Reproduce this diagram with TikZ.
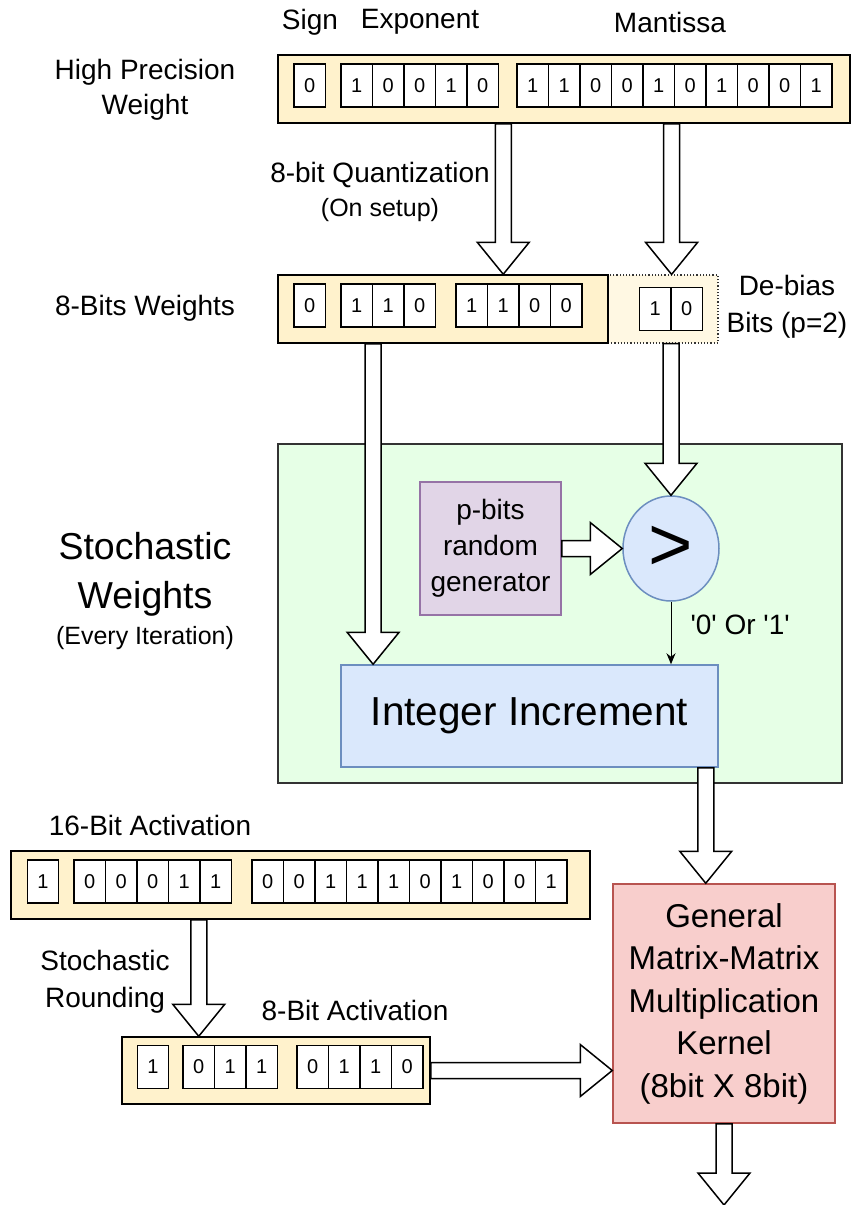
\documentclass[tikz,border=0pt]{standalone}
\usepackage{fontspec}
\setmainfont{Liberation Sans}
\usetikzlibrary{calc}
\usetikzlibrary{shapes}
\usetikzlibrary{arrows.meta}
\definecolor{wordfill}{HTML}{FFF2CC}
\definecolor{stochfill}{HTML}{E6FFE6}
\definecolor{genfill}{HTML}{E1D5E7}
\definecolor{genline}{HTML}{9673A6}
\definecolor{incfill}{HTML}{DAE8FC}
\definecolor{incline}{HTML}{6C8EBF}
\definecolor{gemmfill}{HTML}{F8CECC}
\definecolor{gemmline}{HTML}{B85450}
\tikzset{
    bit/.style = {rectangle, draw=black, line width=1.2pt, fill=white, minimum width=31.5, minimum height=43, inner sep=0pt, font=\fontsize{20}{20}\selectfont},
    word/.style = {rectangle, draw=black, line width=1.5pt, fill=wordfill, minimum height=68, inner sep=0pt},
    worddot/.style = {rectangle, draw=black!80, line width=1.2pt, dotted, fill=wordfill!55, minimum height=68, inner sep=0pt},
    lbl/.style = {align=center, inner sep=0pt, font=\fontsize{28}{35}\selectfont},
    lblsmall/.style = {align=center, inner sep=0pt, font=\fontsize{25}{30}\selectfont},
    stochbox/.style = {rectangle, draw=black!80, line width=1.2pt, fill=stochfill, inner sep=0pt},
    genbox/.style = {rectangle, draw=genline, line width=1.5pt, fill=genfill, align=center, font=\fontsize{28}{36}\selectfont},
    cmpbox/.style = {ellipse, draw=incline, line width=1.5pt, fill=incfill, inner sep=0pt, font=\fontsize{76}{76}\selectfont},
    incbox/.style = {rectangle, draw=incline, line width=1.5pt, fill=incfill, font=\fontsize{40.5}{40.5}\selectfont},
    gemmbox/.style = {rectangle, draw=gemmline, line width=1.5pt, fill=gemmfill, align=center, font=\fontsize{33}{42.5}\selectfont},
    thinarrow/.style = {-{Stealth[length=11pt,width=9pt]}, line width=1pt},
    fatarrow/.style = {draw=black, fill=white, line width=1.5pt, line join=miter, to path={
        ($(\tikztostart)!8pt!90:(\tikztotarget)$)
        -- ($(\tikztotarget)!32pt!(\tikztostart)!8pt!-90:(\tikztostart)$)
        -- ($(\tikztotarget)!32pt!(\tikztostart)!26pt!-90:(\tikztostart)$)
        -- (\tikztotarget)
        -- ($(\tikztotarget)!32pt!(\tikztostart)!26pt!90:(\tikztostart)$)
        -- ($(\tikztotarget)!32pt!(\tikztostart)!8pt!90:(\tikztostart)$)
        -- ($(\tikztostart)!8pt!-90:(\tikztotarget)$)
        -- cycle}}
}
\begin{document}
\begin{tikzpicture}[x=1pt, y=-1pt]
\useasboundingbox (0, 0) rectangle (851, 1205);
%
% labels
\node[lbl] at (310, 22) (sign) {Sign};
\node[lbl] at (420, 22) (expo) {Exponent};
\node[lbl] at (670, 22) (mant) {Mantissa};
\node[lbl] at (145, 89.5) (hplbl) {High Precision\\Weight};
\node[lbl] at (380, 175) (quant) {8-bit Quantization};
\node[lblsmall] at (380, 210) (quantnote) {(On setup)};
\node[lbl] at (145, 308) (w8lbl) {8-Bits Weights};
\node[lbl, font=\fontsize{28}{37}\selectfont] at (787, 307) (dblbl) {De-bias\\Bits (p=2)};
\node[lbl, font=\fontsize{37.5}{49}\selectfont] at (145, 574) (swlbl) {Stochastic\\Weights};
\node[lblsmall] at (145, 638) (swnote) {(Every Iteration)};
\node[lbl] at (150, 825) (a16lbl) {16-Bit Activation};
\node[lbl, font=\fontsize{28}{37}\selectfont] at (105, 981.5) (srlbl) {Stochastic\\Rounding};
\node[lbl] at (355, 1010) (a8lbl) {8-Bit Activation};
%
% high precision weight
\node[word, minimum width=572] at (564, 89) (hpw) {};
\node[bit] at (309.75, 85.5) (hs) {0};
\foreach \b [count=\i from 0] in {1,0,0,1,0}
    \node[bit] at (356.75+31.5*\i, 85.5) (he\i) {\b};
\foreach \b [count=\i from 0] in {1,1,0,0,1,0,1,0,0,1}
    \node[bit] at (532.75+31.5*\i, 85.5) (hm\i) {\b};
%
% 8-bit weight + de-bias bits
\node[worddot, minimum width=110] at (663, 309) (db) {};
\node[word, minimum width=330] at (443, 309) (w8) {};
\node[bit] at (309.75, 305.5) (ws) {0};
\foreach \b [count=\i from 0] in {1,1,0}
    \node[bit] at (356.75+31.5*\i, 305.5) (we\i) {\b};
\foreach \b [count=\i from 0] in {1,1,0,0}
    \node[bit] at (471.75+31.5*\i, 305.5) (wm\i) {\b};
\foreach \b [count=\i from 0] in {1,0}
    \node[bit] at (655.25+31.5*\i, 309) (db\i) {\b};
%
% stochastic weights
\node[stochbox, minimum width=564, minimum height=339] at (560, 613.5) (sw) {};
\node[genbox, minimum width=141, minimum height=133] at (490.5, 548.5) (gen) {p-bits\\random\\generator};
\node[cmpbox, minimum width=96, minimum height=105] at (671, 548.5) (cmp) {>};
\node[incbox, minimum width=377, minimum height=102] at (529.5, 716) (ii) {Integer Increment};
%
% activations
\node[word, minimum width=579] at (300.5, 885) (act16) {};
\node[bit] at (43, 881.5) (as) {1};
\foreach \b [count=\i from 0] in {0,0,0,1,1}
    \node[bit] at (89.75+31.5*\i, 881.5) (ae\i) {\b};
\foreach \b [count=\i from 0] in {0,0,1,1,1,0,1,0,0,1}
    \node[bit] at (267.75+31.5*\i, 881.5) (am\i) {\b};
\node[word, minimum width=308, minimum height=67] at (276, 1070.5) (act8) {};
\node[bit] at (153, 1067) (bs) {1};
\foreach \b [count=\i from 0] in {0,1,1}
    \node[bit] at (198.75+31.5*\i, 1067) (be\i) {\b};
\foreach \b [count=\i from 0] in {0,1,1,0}
    \node[bit] at (312.75+31.5*\i, 1067) (bm\i) {\b};
%
% kernel
\node[gemmbox, minimum width=222, minimum height=239] at (724, 1003.5) (gemm) {General\\Matrix-Matrix\\Multiplication\\Kernel\\(8bit X 8bit)};
\coordinate (out) at (724, 1205);
%
% arrows
\draw[fatarrow] (hpw.south -| wm1) to (w8.north -| wm1);
\draw[fatarrow] (hpw.south -| db0.east) to (db.north -| db0.east);
\draw[fatarrow] (w8.south -| we0.east) to (ii.north -| we0.east);
\draw[fatarrow] (db.south -| cmp.north) to (cmp.north);
\draw[fatarrow] (gen.east) to (cmp.west);
\draw[thinarrow] (cmp.south) -- (ii.north -| cmp.south) node[lbl, anchor=west, pos=0.37, xshift=19pt] (flag) {\textquotesingle0\textquotesingle{} Or \textquotesingle1\textquotesingle};
\draw[fatarrow] ([xshift=-13pt]ii.south east) to ([xshift=-13pt]ii.south east |- gemm.north);
\draw[fatarrow] (act16.south -| be0) to (act8.north -| be0);
\draw[fatarrow] (act8.east) to (act8.east -| gemm.west);
\draw[fatarrow] (gemm.south) to (gemm.south |- out);

\end{tikzpicture}
\end{document}
